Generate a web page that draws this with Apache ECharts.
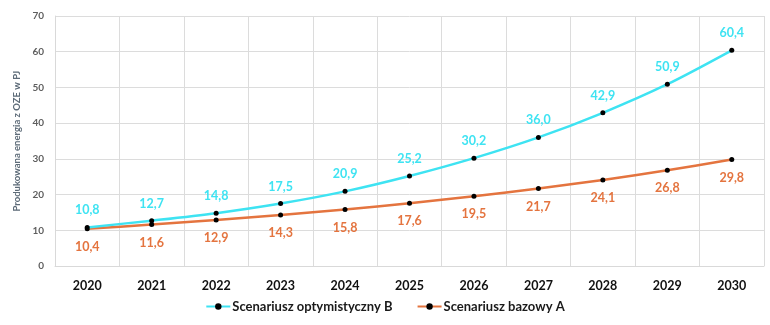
<!DOCTYPE html>
<html>
<head>
<meta charset="utf-8">
<script src="https://cdn.jsdelivr.net/npm/echarts@6/dist/echarts.min.js"></script>
<style>
  html, body { margin: 0; padding: 0; background: #fff; }
  #chart { width: 770px; height: 325px; }
</style>
</head>
<body>
<div id="chart"></div>
<script>
// Years on the horizontal axis
const years = ['2020', '2021', '2022', '2023', '2024', '2025', '2026', '2027', '2028', '2029', '2030'];
// Energy produced from renewables, PJ
const scenarioB = [10.8, 12.7, 14.8, 17.5, 20.9, 25.2, 30.2, 36.0, 42.9, 50.9, 60.4];
const scenarioA = [10.4, 11.6, 12.9, 14.3, 15.8, 17.6, 19.5, 21.7, 24.1, 26.8, 29.8];
const seriesNames = ['Scenariusz optymistyczny B', 'Scenariusz bazowy A'];
const yAxisTitle = 'Produkowana energia z OZE w PJ';

const cyan = '#3ee3f2';
const orange = '#e4743f';
const fontFamily = 'Lato, "Open Sans", sans-serif';

const fmt = v => v.toFixed(1).replace('.', ',');

const chart = echarts.init(document.getElementById('chart'));
chart.setOption({
  animation: false,
  textStyle: { fontFamily },
  grid: { left: 55, right: 6, top: 16, bottom: 59 },
  legend: {
    bottom: 7,
    left: 'center',
    itemGap: 24,
    itemWidth: 24,
    itemHeight: 8,
    textStyle: { fontFamily, fontWeight: 'bold', fontSize: 13, color: '#1a1a1a', padding: [0, 0, 0, -3] },
    data: seriesNames
  },
  xAxis: {
    type: 'category',
    data: years,
    boundaryGap: true,
    axisLine: { show: true, lineStyle: { color: '#d9d9d9' } },
    axisTick: { show: false },
    axisLabel: { color: '#111', fontWeight: 'bold', fontSize: 12.5, margin: 13 },
    splitLine: { show: true, lineStyle: { color: '#dcdcdc', width: 1 } }
  },
  yAxis: {
    type: 'value',
    min: 0, max: 70, interval: 10,
    name: yAxisTitle,
    nameLocation: 'middle',
    nameGap: 30,
    nameTextStyle: { color: '#5d6b78', fontSize: 9.5, fontWeight: 'bold' },
    axisLine: { show: true, lineStyle: { color: '#d9d9d9' } },
    axisTick: { show: false },
    axisLabel: { color: '#5f5f5f', fontWeight: 'bold', fontSize: 10, margin: 11 },
    splitLine: { show: true, lineStyle: { color: '#dcdcdc', width: 1 } }
  },
  series: [
    {
      name: seriesNames[0],
      type: 'line',
      data: scenarioB,
      smooth: 0.3,
      lineStyle: { color: cyan, width: 2.5 },
      symbol: 'circle',
      symbolSize: 5,
      itemStyle: { color: '#000' },
      label: {
        show: true, position: 'top', distance: 8,
        color: cyan, fontWeight: 'bold', fontSize: 12.5,
        formatter: p => fmt(p.value)
      },
      z: 3
    },
    {
      name: seriesNames[1],
      type: 'line',
      data: scenarioA,
      smooth: 0.3,
      lineStyle: { color: orange, width: 2.5 },
      symbol: 'circle',
      symbolSize: 5,
      itemStyle: { color: '#000' },
      label: {
        show: true, position: 'bottom', distance: 9,
        color: orange, fontWeight: 'bold', fontSize: 12.5,
        formatter: p => fmt(p.value)
      },
      z: 2
    }
  ]
});
</script>
</body>
</html>
